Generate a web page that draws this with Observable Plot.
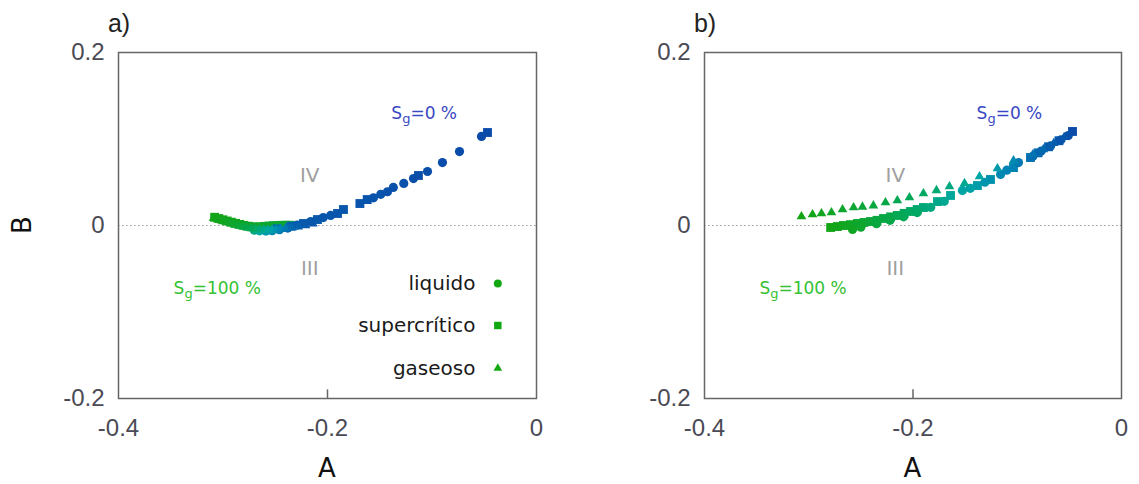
<!DOCTYPE html>
<html>
<head>
<meta charset="utf-8">
<script src="https://cdn.jsdelivr.net/npm/d3@7"></script>
<script src="https://cdn.jsdelivr.net/npm/@observablehq/plot@0.6"></script>
<style>
  html, body { margin: 0; padding: 0; background: #fff; }
  #wrap { display: flex; width: 1139px; height: 484px; }
</style>
</head>
<body>
<div id="wrap"></div>
<script>
// ---- data: [A, B, Sg(%)] ----
const tipos = ["liquido", "supercrítico", "gaseoso"];
const xTicks = [-0.4, -0.2, 0];
const yTicks = [-0.2, 0, 0.2];

// panel a)
const aLiquido = [
  [-0.0526, 0.103, 0], [-0.0737, 0.0855, 1], [-0.090, 0.0728, 1], [-0.1043, 0.0624, 2],
  [-0.1177, 0.0543, 2], [-0.127, 0.0486, 3], [-0.137, 0.044, 3], [-0.1426, 0.039, 3],
  [-0.149, 0.036, 4], [-0.156, 0.032, 4], [-0.197, 0.0116, 5], [-0.204, 0.0092, 5],
  [-0.216, 0.0046, 6], [-0.229, 0.0005, 7], [-0.238, -0.0030, 12], [-0.246, -0.0048, 20],
  [-0.253, -0.0060, 28], [-0.259, -0.0064, 35], [-0.265, -0.0062, 43], [-0.270, -0.0055, 52]
];
const aSuper = [
  [-0.0469, 0.1075, 0], [-0.113, 0.0578, 2], [-0.162, 0.030, 4], [-0.169, 0.0254, 4],
  [-0.1847, 0.0185, 5], [-0.1904, 0.0139, 5], [-0.2096, 0.0069, 6], [-0.223, 0.0023, 6],
  [-0.235, -0.0008, 9], [-0.248, -0.0038, 14],
  [-0.308, 0.0095, 100], [-0.304, 0.0080, 99], [-0.300, 0.0066, 98], [-0.296, 0.0052, 97],
  [-0.292, 0.0038, 96], [-0.288, 0.0025, 95], [-0.284, 0.0013, 94], [-0.280, 0.0002, 93],
  [-0.276, -0.0008, 92], [-0.272, -0.0015, 91], [-0.268, -0.0018, 90], [-0.264, -0.0015, 89],
  [-0.260, -0.0010, 88], [-0.256, -0.0006, 87], [-0.252, -0.0003, 87], [-0.248, 0.0, 86],
  [-0.244, 0.0002, 86], [-0.240, 0.0003, 85], [-0.236, 0.0003, 85]
];
const aGas = [
  [-0.309, 0.0085, 98], [-0.305, 0.0070, 96], [-0.301, 0.0055, 94], [-0.297, 0.0040, 92],
  [-0.293, 0.0025, 89], [-0.289, 0.0010, 86], [-0.285, -0.0003, 82], [-0.281, -0.0015, 78],
  [-0.277, -0.0025, 73], [-0.273, -0.0034, 68], [-0.269, -0.0041, 62], [-0.265, -0.0047, 56],
  [-0.261, -0.0051, 50], [-0.257, -0.0053, 44], [-0.253, -0.0052, 38], [-0.249, -0.0049, 32],
  [-0.245, -0.0044, 26], [-0.240, -0.0036, 20], [-0.234, -0.0026, 14], [-0.228, -0.0015, 10],
  [-0.221, 0.0, 7], [-0.214, 0.002, 5]
];

// panel b)
const bLiquido = [
  [-0.258, -0.0046, 92], [-0.250, -0.002, 88], [-0.235, 0.002, 80], [-0.222, 0.006, 74],
  [-0.209, 0.010, 68], [-0.196, 0.015, 61], [-0.183, 0.021, 53], [-0.170, 0.028, 47],
  [-0.1526, 0.0405, 40], [-0.145, 0.043, 38], [-0.131, 0.050, 33], [-0.116, 0.059, 27],
  [-0.110, 0.064, 25], [-0.0988, 0.0728, 20], [-0.085, 0.080, 15], [-0.077, 0.086, 12],
  [-0.068, 0.092, 8], [-0.058, 0.099, 4], [-0.051, 0.104, 2]
];
const bSuper = [
  [-0.279, -0.0023, 100], [-0.2725, -0.0012, 97], [-0.2667, 0.0, 94], [-0.260, 0.001, 91],
  [-0.2533, 0.0023, 88], [-0.247, 0.0035, 85], [-0.2408, 0.0046, 82], [-0.2345, 0.006, 79],
  [-0.2283, 0.0081, 76], [-0.2215, 0.010, 73], [-0.215, 0.0116, 70], [-0.2085, 0.014, 66],
  [-0.2024, 0.0162, 62], [-0.196, 0.0185, 58], [-0.190, 0.0208, 55], [-0.1765, 0.0277, 49],
  [-0.164, 0.0347, 44], [-0.1382, 0.0462, 36], [-0.1257, 0.0532, 31], [-0.1036, 0.067, 24],
  [-0.0873, 0.0786, 16], [-0.080, 0.084, 13], [-0.070, 0.091, 9], [-0.060, 0.098, 5], [-0.047, 0.1087, 0]
];
const bGas = [
  [-0.307, 0.0104, 100], [-0.2964, 0.0127, 97], [-0.2878, 0.0139, 94], [-0.2782, 0.015, 91],
  [-0.2676, 0.0185, 88], [-0.257, 0.0208, 85], [-0.2485, 0.0215, 82], [-0.238, 0.023, 79],
  [-0.2264, 0.0266, 75], [-0.215, 0.0289, 71], [-0.2034, 0.0324, 67], [-0.190, 0.037, 62],
  [-0.1775, 0.0405, 57], [-0.165, 0.045, 52], [-0.1506, 0.0486, 47], [-0.1362, 0.0566, 41],
  [-0.119, 0.0659, 35], [-0.1036, 0.075, 28], [-0.085, 0.082, 18], [-0.075, 0.088, 14],
  [-0.065, 0.095, 9], [-0.055, 0.102, 5]
];

// ---- drawing ----
const symbolRange = ["circle", "square", "triangle"];
const rOf = {"liquido": 4.6, "supercrítico": 5.0, "gaseoso": 3.6};
const legendR = {"liquido": 4.0, "supercrítico": 4.2, "gaseoso": 3.2};

function panel({liq, sup, gas, width, marginLeft, marginRight, letter, showB, showLegend}) {
  const rows = [];
  for (const [arr, tipo] of [[liq, tipos[0]], [sup, tipos[1]], [gas, tipos[2]]])
    for (const [A, B, Sg] of arr) rows.push({A, B, Sg, tipo});
  rows.sort((a, b) => b.Sg - a.Sg);

  const legendRows = tipos.map((t, i) => ({tipo: t, A: -0.0584, As: -0.037, B: [-0.067, -0.1156, -0.165][i]}));
  const romans = [{t: "IV", A: -0.217, B: 0.058}, {t: "III", A: -0.217, B: -0.050}];

  const marks = [
    Plot.ruleY([0], {stroke: "#9a9a9a", strokeDasharray: "1.5,2.5", strokeWidth: 1}),
    Plot.dot(rows, {x: "A", y: "B", fill: "Sg", symbol: "tipo", r: d => rOf[d.tipo]}),
    Plot.frame({stroke: "#666", strokeWidth: 1.5}),
    Plot.ruleX([-0.2], {y1: -0.2, y2: -0.19, stroke: "#666", strokeWidth: 1.5}),
    Plot.axisX({ticks: xTicks, tickSize: 0, tickPadding: 20, tickFormat: d => String(d), label: null, fontSize: 24}),
    Plot.axisY({ticks: yTicks, tickSize: 0, tickPadding: 14, tickFormat: d => String(d), label: null, fontSize: 24}),
    Plot.text(romans, {x: "A", y: "B", text: "t", fontSize: 20, fontFamily: "DejaVu Sans", fill: "#a0a0a0"})
  ];
  if (showLegend) {
    marks.push(Plot.text(legendRows, {x: "A", y: "B", text: "tipo", textAnchor: "end", fontSize: 20, fontFamily: "DejaVu Sans", fill: "#1a1a1a"}));
    marks.push(Plot.dot(legendRows, {x: "As", y: "B", symbol: "tipo", fill: "#12a812", r: d => legendR[d.tipo]}));
  }

  const plot = Plot.plot({
    width, height: 484, marginLeft, marginRight, marginTop: 52, marginBottom: 86,
    x: {domain: [-0.4, 0]},
    y: {domain: [-0.2, 0.2]},
    r: {type: "identity"},
    symbol: {domain: tipos, range: symbolRange},
    color: {type: "linear", domain: [0, 25, 42, 62, 100],
            range: ["#0a4aa9", "#0084b6", "#00a8a2", "#00a862", "#14a514"]},
    style: {fontFamily: "Liberation Sans", fontSize: "24px", color: "#4a4a55", background: "white"},
    marks
  });

  const sx = plot.scale("x"), sy = plot.scale("y");
  const svg = d3.select(plot);
  svg.append("text").attr("x", sx.apply(-0.4) + 1).attr("y", 32)
    .attr("font-family", "Liberation Sans").attr("font-size", 25).attr("fill", "#222").text(letter);
  svg.append("text").attr("x", sx.apply(-0.2)).attr("y", 477).attr("text-anchor", "middle")
    .attr("font-family", "DejaVu Sans").attr("font-size", 26).attr("fill", "#111").text("A");
  if (showB) {
    svg.append("text").attr("transform", `translate(31,${sy.apply(0)}) rotate(-90)`).attr("text-anchor", "middle")
      .attr("font-family", "DejaVu Sans").attr("font-size", 26).attr("fill", "#111").text("B");
  }
  const sgLabel = (A, B, val, color) => {
    const t = svg.append("text").attr("x", sx.apply(A)).attr("y", sy.apply(B)).attr("text-anchor", "middle")
      .attr("font-family", "DejaVu Sans").attr("font-size", 17).attr("font-weight", 500).attr("fill", color);
    t.append("tspan").text("S");
    t.append("tspan").attr("font-size", 13).attr("dy", 4).text("g");
    t.append("tspan").attr("dy", -4).text("=" + val + " %");
  };
  sgLabel(-0.107, 0.123, 0, "#3848c4");
  sgLabel(-0.305, -0.080, 100, "#34c234");
  return plot;
}

const wrap = document.getElementById("wrap");
wrap.appendChild(panel({liq: aLiquido, sup: aSuper, gas: aGas, width: 570, marginLeft: 118, marginRight: 34, letter: "a)", showB: true, showLegend: true}));
wrap.appendChild(panel({liq: bLiquido, sup: bSuper, gas: bGas, width: 569, marginLeft: 134, marginRight: 18, letter: "b)", showB: false, showLegend: false}));
</script>
</body>
</html>
